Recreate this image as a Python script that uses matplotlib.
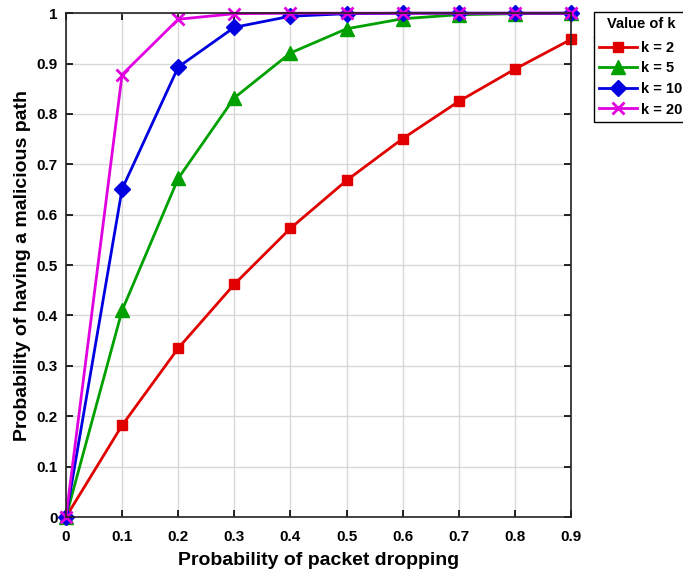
import numpy as np
import matplotlib
matplotlib.use("Agg")
import matplotlib.pyplot as plt
from matplotlib.lines import Line2D

plt.rcParams["font.family"] = ["Liberation Sans", "DejaVu Sans"]
plt.rcParams["font.weight"] = "bold"

p = [0, 0.1, 0.2, 0.3, 0.4, 0.5, 0.6, 0.7, 0.8, 0.9]
k2 = [0, 0.182, 0.335, 0.462, 0.573, 0.668, 0.751, 0.825, 0.889, 0.948]
k5 = [0, 0.410, 0.672, 0.832, 0.921, 0.969, 0.989, 0.997, 0.999, 1.0]
k10 = [0, 0.651, 0.893, 0.972, 0.994, 0.999, 1.0, 1.0, 1.0, 1.0]
k20 = [0, 0.878, 0.988, 0.999, 1.0, 1.0, 1.0, 1.0, 1.0, 1.0]
labels = ["k = 2", "k = 5", "k = 10", "k = 20"]

fig = plt.figure(figsize=(6.83, 5.74), dpi=100)
ax = fig.add_axes([0.0966, 0.0993, 0.7394, 0.8777])

ax.plot(p, k2, "-s", color="#e00000", lw=2, ms=7, label=labels[0], clip_on=False)
ax.plot(p, k5, "-^", color="#00a000", lw=2, ms=10, label=labels[1], clip_on=False)
ax.plot(p, k10, "-D", color="#0000e0", lw=2, ms=8, label=labels[2], clip_on=False)
ax.plot(p, k20, "-x", color="#e000e0", lw=2, ms=9, mew=2, label=labels[3], clip_on=False)

ax.set_xlim(0, 0.9)
ax.set_ylim(0, 1)
ax.set_xticks(np.arange(0, 0.91, 0.1))
ax.set_yticks(np.arange(0, 1.01, 0.1))
ax.set_xticklabels(["0"] + ["%.1f" % v for v in np.arange(0.1, 0.91, 0.1)])
ax.set_yticklabels(["0"] + ["%.1f" % v for v in np.arange(0.1, 0.91, 0.1)] + ["1"])
ax.tick_params(direction="in", top=True, right=True, labelsize=11, width=1.2, length=5)
ax.tick_params(axis="x", pad=9)
ax.tick_params(axis="y", pad=6)
ax.grid(True, color="#d8d8d8", lw=1)
for s in ax.spines.values():
    s.set_linewidth(1.2)
    s.set_color("#222222")

ax.set_xlabel("Probability of packet dropping", fontsize=14, fontweight="bold", labelpad=6)
ax.set_ylabel("Probability of having a malicious path", fontsize=14, fontweight="bold", labelpad=4)

leg = fig.legend(loc="upper left", bbox_to_anchor=(594 / 683, 1 - 12 / 574),
                 title="Value of k", fontsize=10.5, title_fontsize=10.5,
                 fancybox=False, edgecolor="black", framealpha=1,
                 handlelength=2.6, handletextpad=0.3, borderaxespad=0,
                 labelspacing=0.45, borderpad=0.35)
leg.get_title().set_fontweight("bold")
leg._legend_box.sep = 7
leg.get_frame().set_linewidth(1.0)
fig.add_artist(Line2D([594 / 683, 1], [1 - 37 / 574, 1 - 37 / 574],
                      color="black", lw=1, transform=fig.transFigure))

fig.savefig("out.png", dpi=100)
